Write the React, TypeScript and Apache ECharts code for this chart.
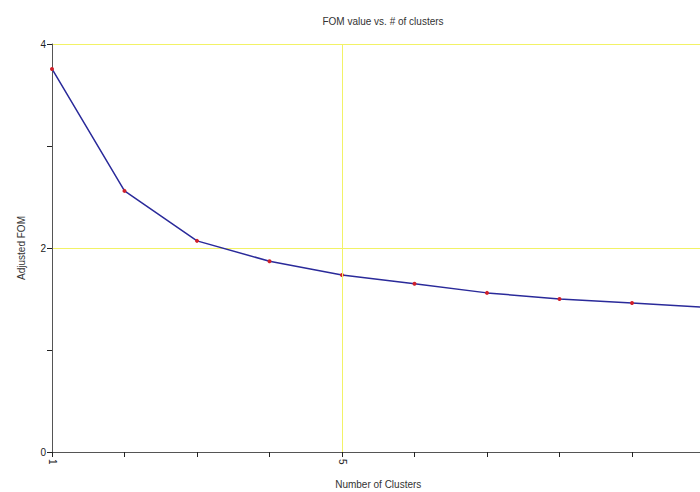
import React, { useEffect, useRef } from "react";
import * as echarts from "echarts";

const clusters = [1, 2, 3, 4, 5, 6, 7, 8, 9, 10];
const fomValues = [3.755, 2.56, 2.07, 1.87, 1.735, 1.65, 1.56, 1.5, 1.46, 1.42];
const xLabelValues = [1, 5, 10];
const xGridValues = [5, 10];

export default function App() {
  const ref = useRef<HTMLDivElement>(null);
  useEffect(() => {
    if (!ref.current) return;
    const chart = echarts.init(ref.current, null, { renderer: "svg" });
    const font = "Liberation Sans, Arial, sans-serif";
    chart.setOption({
      animation: false,
      backgroundColor: "#ffffff",
      title: {
        text: "FOM value vs. # of clusters",
        left: 378,
        textAlign: "center",
        top: 11,
        textStyle: { fontSize: 10, fontWeight: "normal", color: "#333", fontFamily: font },
      },
      grid: { left: 52, top: 44, bottom: 40, right: -4.5, outerBoundsMode: "none" },
      xAxis: {
        type: "value",
        min: 1,
        max: 10,
        interval: 1,
        name: "Number of Clusters",
        nameLocation: "middle",
        nameGap: 27,
        nameTextStyle: { fontSize: 10, color: "#333", fontFamily: font },
        axisLine: { lineStyle: { color: "#555", width: 1 } },
        axisTick: { show: true, length: 5, lineStyle: { color: "#222" } },
        axisLabel: {
          customValues: xLabelValues,
          rotate: -90,
          fontSize: 10,
          color: "#222",
          fontFamily: font,
          margin: 7,
        },
        splitLine: { show: false },
      },
      yAxis: {
        type: "value",
        min: 0,
        max: 4,
        interval: 2,
        name: "Adjusted FOM",
        nameLocation: "middle",
        nameGap: 26,
        nameTextStyle: { fontSize: 10, color: "#333", fontFamily: font },
        axisLine: { show: true, lineStyle: { color: "#555", width: 1 } },
        axisTick: { show: true, length: 5, lineStyle: { color: "#222" } },
        minorTick: { show: true, splitNumber: 2, length: 5, lineStyle: { color: "#222" } },
        axisLabel: { fontSize: 10, color: "#222", fontFamily: font, margin: 6 },
        splitLine: { show: true, lineStyle: { color: "#f2f266", width: 1 } },
      },
      series: [
        {
          type: "line",
          data: clusters.map((c, i) => [c, fomValues[i]]),
          symbol: "circle",
          symbolSize: 4,
          itemStyle: { color: "#d0202a" },
          lineStyle: { color: "#2a2a9a", width: 1.5 },
          markLine: {
            silent: true,
            symbol: "none",
            label: { show: false },
            lineStyle: { color: "#f2f266", width: 1, type: "solid" },
            data: xGridValues.map((v) => ({ xAxis: v })),
          },
          z: 3,
        },
      ],
    });
    return () => chart.dispose();
  }, []);
  return (
    <div
      ref={ref}
      style={{ position: "fixed", left: 0, top: 0, width: 700, height: 492 }}
    />
  );
}
